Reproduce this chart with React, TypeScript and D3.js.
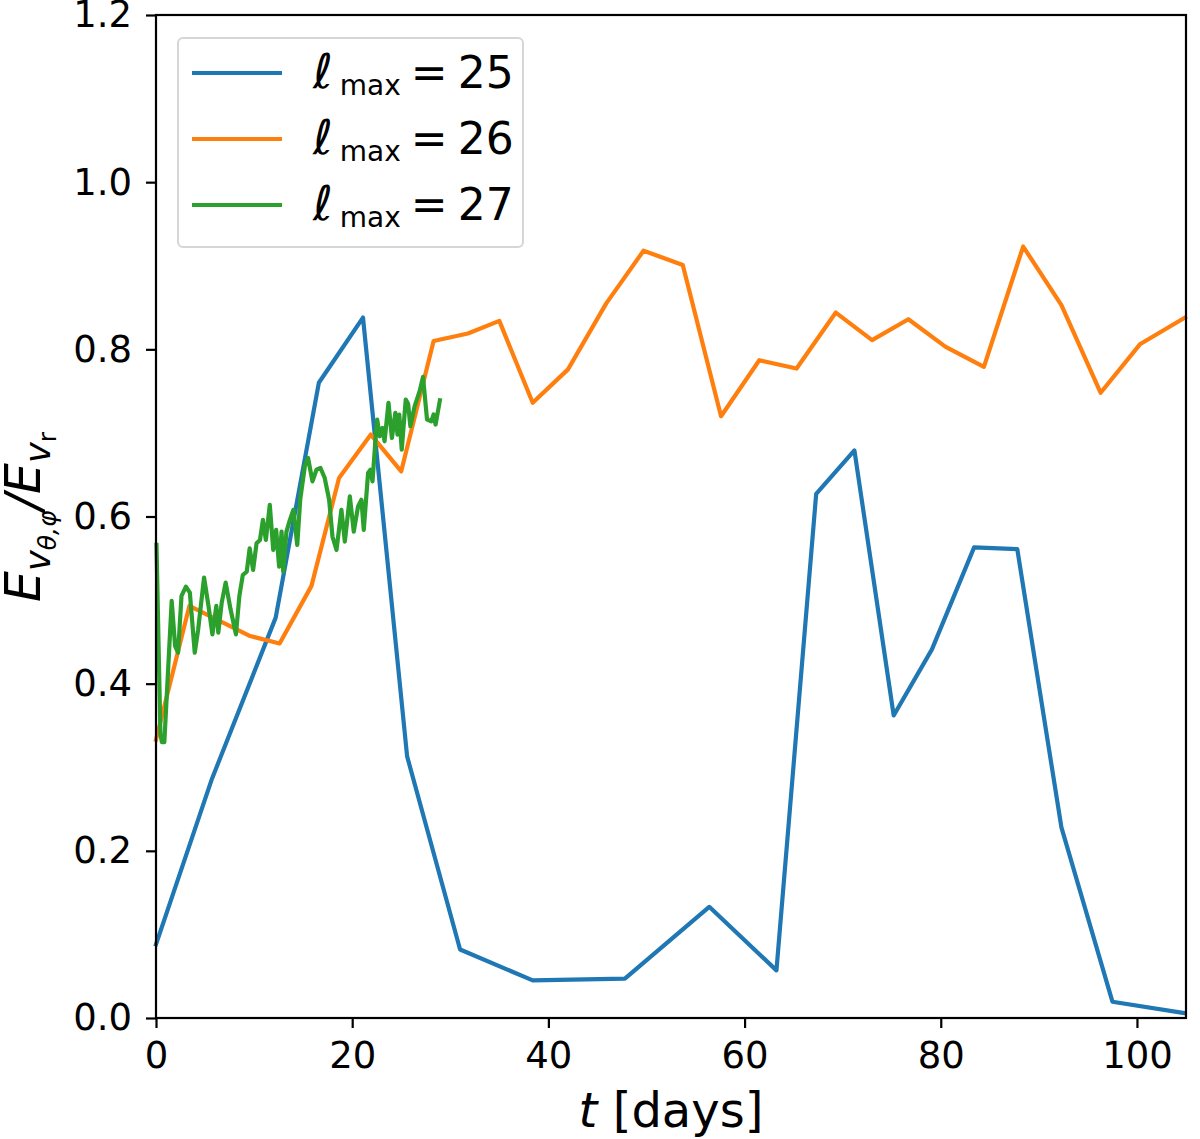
import React, { useEffect, useRef } from 'react';
import * as d3 from 'd3';

// time in days, energy ratio
const blueT = [0, 5.7, 12.2, 16.6, 21.1, 25.6, 31.0, 38.4, 47.8, 56.4, 63.25, 67.3, 71.2, 75.2, 79.1, 83.4, 87.8, 92.3, 97.5, 104.8];
const blueV = [0.088, 0.286, 0.479, 0.76, 0.838, 0.313, 0.082, 0.045, 0.047, 0.133, 0.057, 0.627, 0.679, 0.362, 0.441, 0.563, 0.561, 0.228, 0.0195, 0.006];

const orangeT = [0, 3.4, 9.6, 12.6, 15.85, 18.66, 21.9, 25.0, 28.3, 31.8, 35.0, 38.4, 42.0, 45.9, 49.7, 53.7, 57.6, 61.5, 65.3, 69.3, 73.0, 76.7, 80.5, 84.4, 88.4, 92.3, 96.3, 100.3, 104.9];
const orangeV = [0.333, 0.493, 0.457, 0.448, 0.517, 0.646, 0.698, 0.654, 0.81, 0.819, 0.834, 0.736, 0.776, 0.855, 0.918, 0.901, 0.72, 0.787, 0.777, 0.844, 0.811, 0.836, 0.803, 0.779, 0.923, 0.853, 0.748, 0.806, 0.838];

const greenT = [0.05, 0.45, 0.6, 0.85, 1.6, 1.95, 2.25, 2.6, 3.05, 3.45, 3.95, 4.3, 4.9, 5.35, 5.75, 6.15, 6.35, 6.7, 7.1, 7.6, 8.15, 8.5, 8.85, 9.25, 9.55, 9.9, 10.25, 10.6, 10.9, 11.2, 11.6, 11.95, 12.25, 12.55, 12.8, 12.97, 13.3, 13.65, 14.0, 14.4, 14.7, 15.17, 15.5, 15.95, 16.36, 16.77, 17.2, 17.65, 17.99, 18.4, 18.9, 19.25, 19.76, 20.16, 20.6, 20.94, 21.18, 21.62, 21.86, 22.07, 22.4, 22.55, 22.8, 23.08, 23.3, 23.7, 24.05, 24.4, 24.62, 24.8, 25.05, 25.46, 25.7, 25.93, 26.37, 26.9, 27.22, 27.63, 28.07, 28.3, 28.5, 28.94];
const greenV = [0.566, 0.34, 0.33, 0.33, 0.499, 0.445, 0.437, 0.505, 0.516, 0.509, 0.437, 0.465, 0.527, 0.493, 0.459, 0.493, 0.461, 0.497, 0.521, 0.489, 0.459, 0.505, 0.53, 0.534, 0.562, 0.536, 0.568, 0.572, 0.596, 0.572, 0.614, 0.56, 0.584, 0.54, 0.582, 0.534, 0.582, 0.596, 0.608, 0.566, 0.62, 0.66, 0.67, 0.642, 0.656, 0.658, 0.646, 0.62, 0.576, 0.56, 0.608, 0.57, 0.624, 0.582, 0.612, 0.62, 0.584, 0.652, 0.656, 0.642, 0.696, 0.716, 0.696, 0.706, 0.69, 0.736, 0.694, 0.724, 0.698, 0.722, 0.68, 0.74, 0.735, 0.708, 0.732, 0.751, 0.767, 0.716, 0.714, 0.722, 0.71, 0.739];

const seriesNames = ['25', '26', '27'];
const seriesColors = ['#1f77b4', '#ff7f0e', '#2ca02c'];
const xTicks = [0, 20, 40, 60, 80, 100];
const yTicks = [0, 0.2, 0.4, 0.6, 0.8, 1.0, 1.2];

const W = 1200;
const H = 1139;
const FONT = "'DejaVu Sans', sans-serif";

export default function App() {
  const ref = useRef<SVGSVGElement>(null);

  useEffect(() => {
    if (!ref.current) return;
    const svg = d3.select(ref.current);
    svg.selectAll('*').remove();

    const left = 156, right = 1186, top = 15, bottom = 1018;
    const x = d3.scaleLinear().domain([0, 105]).range([left, right]);
    const y = d3.scaleLinear().domain([0, 1.2]).range([bottom, top]);

    const line = d3.line<[number, number]>()
      .x(d => x(d[0]))
      .y(d => y(d[1]));

    const series: [number, number][][] = [
      blueT.map((t, i) => [t, blueV[i]]),
      orangeT.map((t, i) => [t, orangeV[i]]),
      greenT.map((t, i) => [t, greenV[i]]),
    ];

    series.forEach((pts, i) => {
      svg.append('path')
        .attr('d', line(pts))
        .attr('fill', 'none')
        .attr('stroke', seriesColors[i])
        .attr('stroke-width', 4.2)
        .attr('stroke-linejoin', 'round')
        .attr('stroke-linecap', 'square');
    });

    // frame
    svg.append('rect')
      .attr('x', left).attr('y', top)
      .attr('width', right - left).attr('height', bottom - top)
      .attr('fill', 'none').attr('stroke', '#000').attr('stroke-width', 2.2);

    // x axis
    const xa = svg.append('g').attr('transform', `translate(0,${bottom})`)
      .call(d3.axisBottom(x).tickValues(xTicks).tickSize(10).tickPadding(14).tickFormat(d3.format('d')));
    xa.select('.domain').remove();
    xa.selectAll('line').attr('stroke', '#000').attr('stroke-width', 2.2);
    xa.selectAll('text').attr('font-size', 37).attr('font-family', FONT).attr('fill', '#000');

    // y axis
    const ya = svg.append('g').attr('transform', `translate(${left},0)`)
      .call(d3.axisLeft(y).tickValues(yTicks).tickSize(10).tickPadding(14).tickFormat(d3.format('.1f')));
    ya.select('.domain').remove();
    ya.selectAll('line').attr('stroke', '#000').attr('stroke-width', 2.2);
    ya.selectAll('text').attr('font-size', 37).attr('font-family', FONT).attr('fill', '#000');

    // x label
    const xl = svg.append('text')
      .attr('x', (left + right) / 2).attr('y', 1127)
      .attr('text-anchor', 'middle')
      .attr('font-size', 48).attr('font-family', FONT);
    xl.append('tspan').attr('font-style', 'italic').text('t');
    xl.append('tspan').text(' [days]');

    // y label
    const yl = svg.append('text')
      .attr('transform', `translate(40,${517}) rotate(-90)`)
      .attr('text-anchor', 'middle')
      .attr('font-size', 49).attr('font-family', FONT);
    yl.append('tspan').attr('font-style', 'italic').text('E');
    yl.append('tspan').attr('font-style', 'italic').attr('font-size', 35).attr('dy', 10).text('v');
    yl.append('tspan').attr('font-style', 'italic').attr('font-size', 25).attr('dy', 6).text('θ,φ');
    yl.append('tspan').attr('font-style', 'italic').attr('dy', -16).text('/E');
    yl.append('tspan').attr('font-style', 'italic').attr('font-size', 35).attr('dy', 10).text('v');
    yl.append('tspan').attr('font-size', 25).attr('dy', 6).text('r');

    // legend
    const lg = svg.append('g');
    lg.append('rect')
      .attr('x', 178).attr('y', 38).attr('width', 345).attr('height', 209)
      .attr('rx', 5)
      .attr('fill', 'white').attr('fill-opacity', 0.8)
      .attr('stroke', '#d6d6d6').attr('stroke-width', 2);
    seriesNames.forEach((name, i) => {
      const cy = 73 + i * 66;
      lg.append('line')
        .attr('x1', 192).attr('x2', 282).attr('y1', cy).attr('y2', cy)
        .attr('stroke', seriesColors[i]).attr('stroke-width', 4.2);
      const t = lg.append('text')
        .attr('x', 313).attr('y', cy + 15)
        .attr('font-size', 44).attr('font-family', FONT);
      t.append('tspan').attr('font-style', 'italic').attr('font-size', 48).text('ℓ');
      t.append('tspan').attr('font-size', 28).attr('dx', 7).attr('dy', 7).text('max');
      t.append('tspan').attr('dx', 10).attr('dy', -7).text('=');
      t.append('tspan').attr('dx', 10).text(name);
    });
  }, []);

  return (
    <svg
      ref={ref}
      width={W}
      height={H}
      style={{ position: 'absolute', left: 0, top: 0, background: 'white' }}
    />
  );
}
